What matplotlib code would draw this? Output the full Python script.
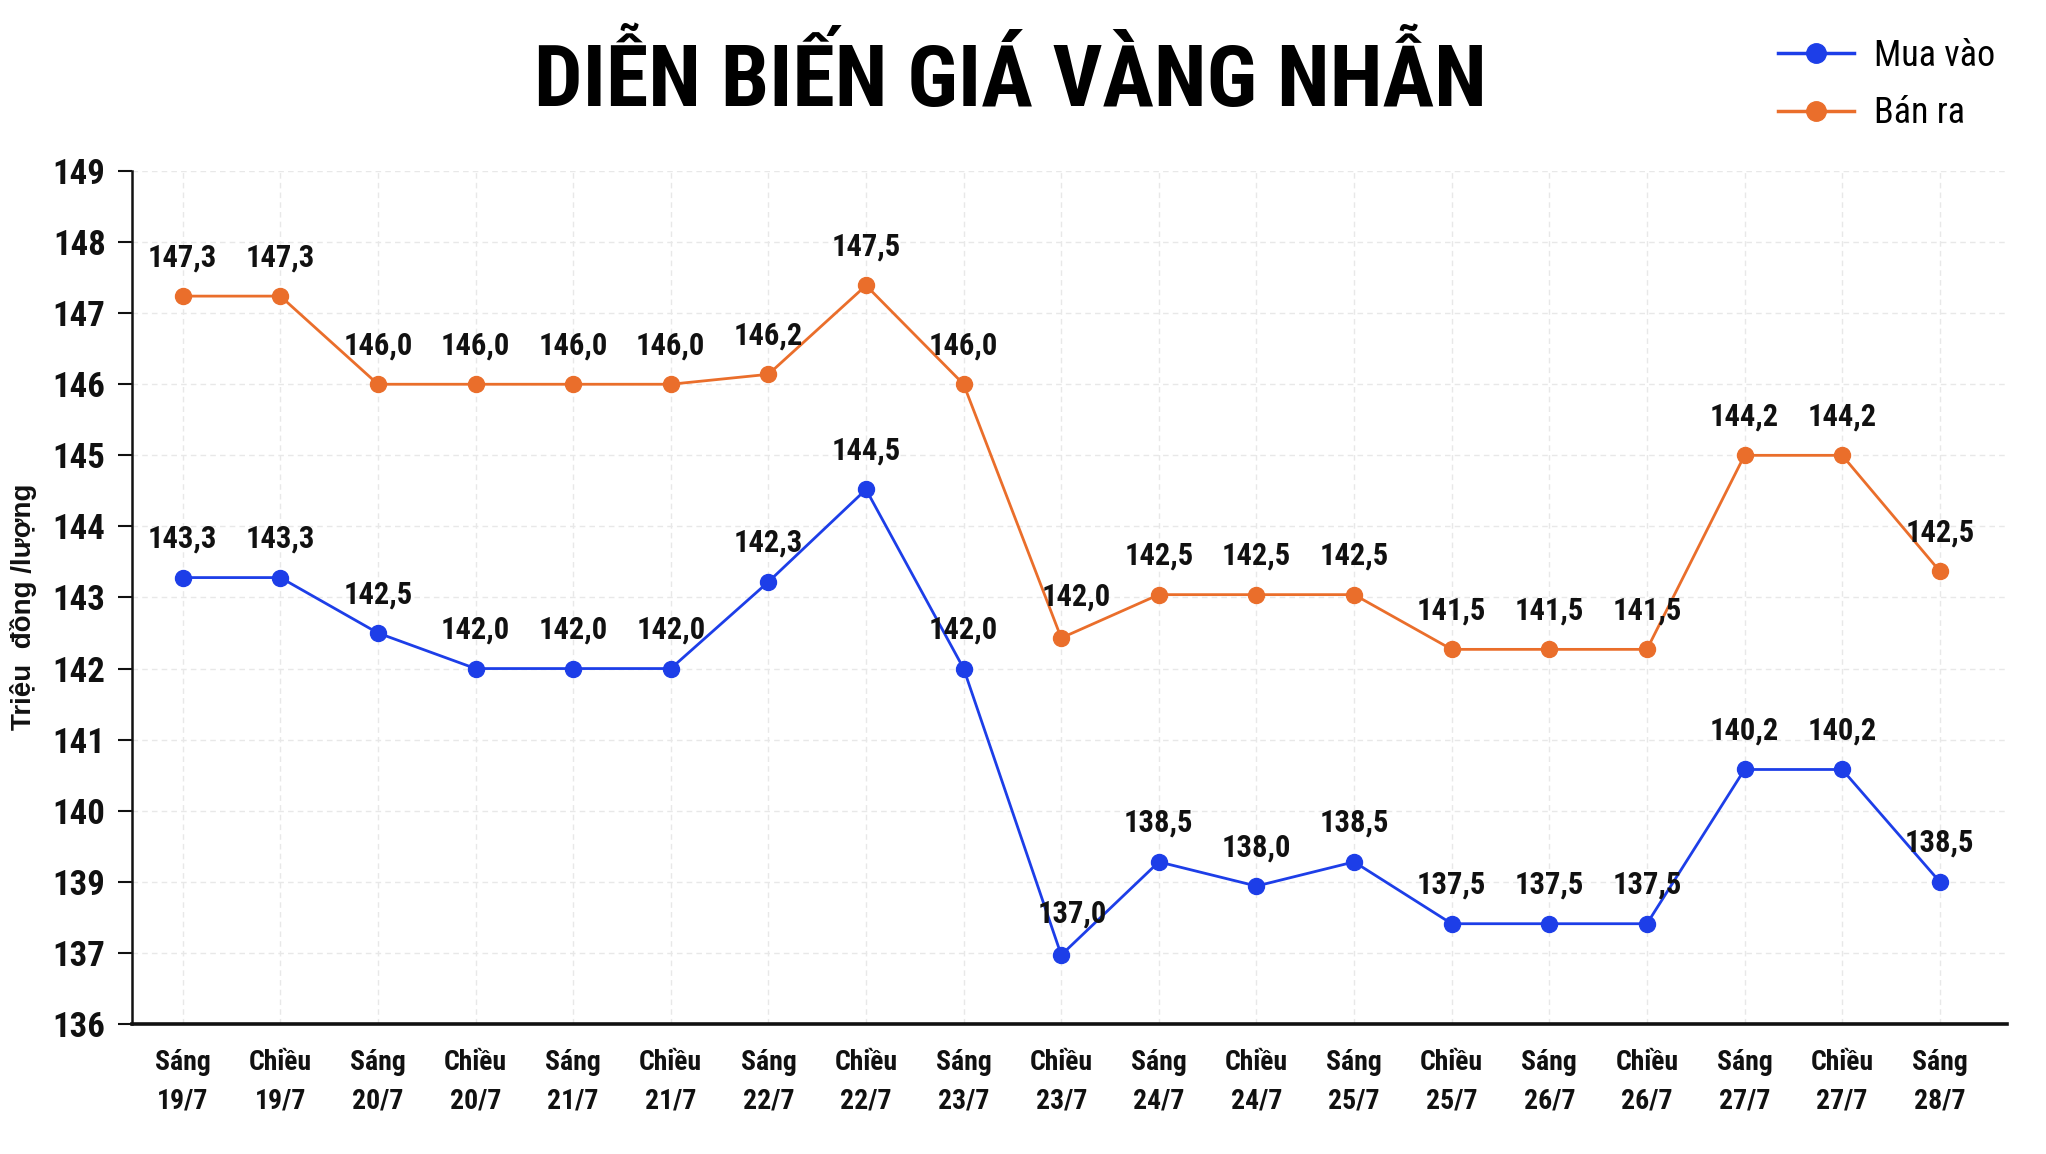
import matplotlib
matplotlib.use("Agg")
import matplotlib.pyplot as plt
from matplotlib.lines import Line2D
from matplotlib import font_manager as fm

# ---- data ----
categories = ["Sáng\n19/7", "Chiều\n19/7", "Sáng\n20/7", "Chiều\n20/7", "Sáng\n21/7",
              "Chiều\n21/7", "Sáng\n22/7", "Chiều\n22/7", "Sáng\n23/7", "Chiều\n23/7",
              "Sáng\n24/7", "Chiều\n24/7", "Sáng\n25/7", "Chiều\n25/7", "Sáng\n26/7",
              "Chiều\n26/7", "Sáng\n27/7", "Chiều\n27/7", "Sáng\n28/7"]

# printed values (data labels)
mua_vao_labels = ["143,3", "143,3", "142,5", "142,0", "142,0", "142,0", "142,3", "144,5", "142,0",
                  "137,0", "138,5", "138,0", "138,5", "137,5", "137,5", "137,5", "140,2", "140,2", "138,5"]
ban_ra_labels = ["147,3", "147,3", "146,0", "146,0", "146,0", "146,0", "146,2", "147,5", "146,0",
                 "142,0", "142,5", "142,5", "142,5", "141,5", "141,5", "141,5", "144,2", "144,2", "142,5"]

# plotted positions as read against the (uneven) axis of the original
mua_vao = [143.28, 143.28, 142.50, 142.0, 142.0, 142.0, 143.22, 144.52, 142.0,
           137.97, 139.28, 138.94, 139.28, 138.41, 138.41, 138.41, 140.58, 140.58, 139.0]
ban_ra = [147.24, 147.24, 146.0, 146.0, 146.0, 146.0, 146.14, 147.39, 146.0,
          142.43, 143.04, 143.04, 143.04, 142.27, 142.27, 142.27, 145.0, 145.0, 143.37]

ytick_pos = [137, 138, 139, 140, 141, 142, 143, 144, 145, 146, 147, 148, 149]
ytick_labels = ["136", "137", "139", "140", "141", "142", "143", "144", "145", "146", "147", "148", "149"]

title = "DIỄN BIẾN GIÁ VÀNG NHẪN"
ylabel = "Triệu  đồng /lượng"
series_names = ["Mua vào", "Bán ra"]

BLUE = "#1d3ee8"
ORANGE = "#ea6e2b"

available = set(f.name for f in fm.fontManager.ttflist)
def pick(cands):
    for c in cands:
        if c in available:
            return c
    return "DejaVu Sans"

COND = pick(["Roboto Condensed", "Oswald", "Barlow Condensed", "Fira Sans Condensed", "Archivo Narrow"])
TITLEF = pick(["Roboto Condensed", "Oswald", "Barlow Condensed", "Fira Sans Condensed"])
NORMAL = pick(["Liberation Sans", "Arimo", "Roboto", "DejaVu Sans"])
F_COND = [COND, "DejaVu Sans"]

plt.rcParams["font.family"] = F_COND

fig = plt.figure(figsize=(20.46, 11.54), dpi=100)
ax = fig.add_axes([0.0645, 0.1127, 0.9165, 0.7391])

x = list(range(len(categories)))
ax.plot(x, mua_vao, color=BLUE, lw=2.0, marker="o", ms=11.5, zorder=3)
ax.plot(x, ban_ra, color=ORANGE, lw=2.0, marker="o", ms=11.5, zorder=3)

def annotate(vals, labels, special):
    for i, (v, t) in enumerate(zip(vals, labels)):
        dx, dy = special.get(i, (0, 28))
        ax.annotate(t, (i, v), xytext=(dx, dy), textcoords="offset points",
                    ha="center", va="center", fontsize=22, fontweight="bold",
                    color="#111111", zorder=4)

annotate(mua_vao, mua_vao_labels, {9: (8, 30)})
annotate(ban_ra, ban_ra_labels, {9: (11, 30)})

ax.set_xlim(-0.52, 18.69)
ax.set_ylim(137, 149)
ax.set_yticks(ytick_pos)
ax.set_yticklabels(ytick_labels)
ax.set_xticks(x)
ax.set_xticklabels(categories, linespacing=1.55)

for lab in ax.get_yticklabels():
    lab.set_fontsize(25)
    lab.set_fontweight("bold")
for lab in ax.get_xticklabels():
    lab.set_fontsize(20)
    lab.set_fontweight("bold")

ax.tick_params(axis="y", length=10, width=1.5, pad=9, colors="#111111")
ax.tick_params(axis="x", length=0, pad=18, colors="#111111")

ax.grid(True, color="#e8e8e8", lw=1.0, ls=(0, (4, 3)))
ax.set_axisbelow(True)

for s in ["top", "right"]:
    ax.spines[s].set_visible(False)
ax.spines["left"].set_linewidth(1.8)
ax.spines["bottom"].set_linewidth(2.6)
ax.spines["left"].set_color("#111111")
ax.spines["bottom"].set_color("#111111")

fig.text(0.494, 0.930, title, ha="center", va="center", fontsize=62,
         fontweight="heavy", color="#000000", family=[TITLEF, "DejaVu Sans"])

fig.text(0.0113, 0.474, ylabel, rotation=90, ha="center", va="center",
         fontsize=20, fontweight="bold", color="#111111", family=[NORMAL, "DejaVu Sans"])

handles = [Line2D([0], [0], color=BLUE, lw=2.5, marker="o", ms=14),
           Line2D([0], [0], color=ORANGE, lw=2.5, marker="o", ms=14)]
fig.legend(handles, series_names, loc="upper left", bbox_to_anchor=(0.862, 0.980),
           frameon=False, fontsize=26, handlelength=2.1, handletextpad=0.55,
           labelspacing=0.6, borderaxespad=0)

fig.savefig("out.png", dpi=100, facecolor="white")
